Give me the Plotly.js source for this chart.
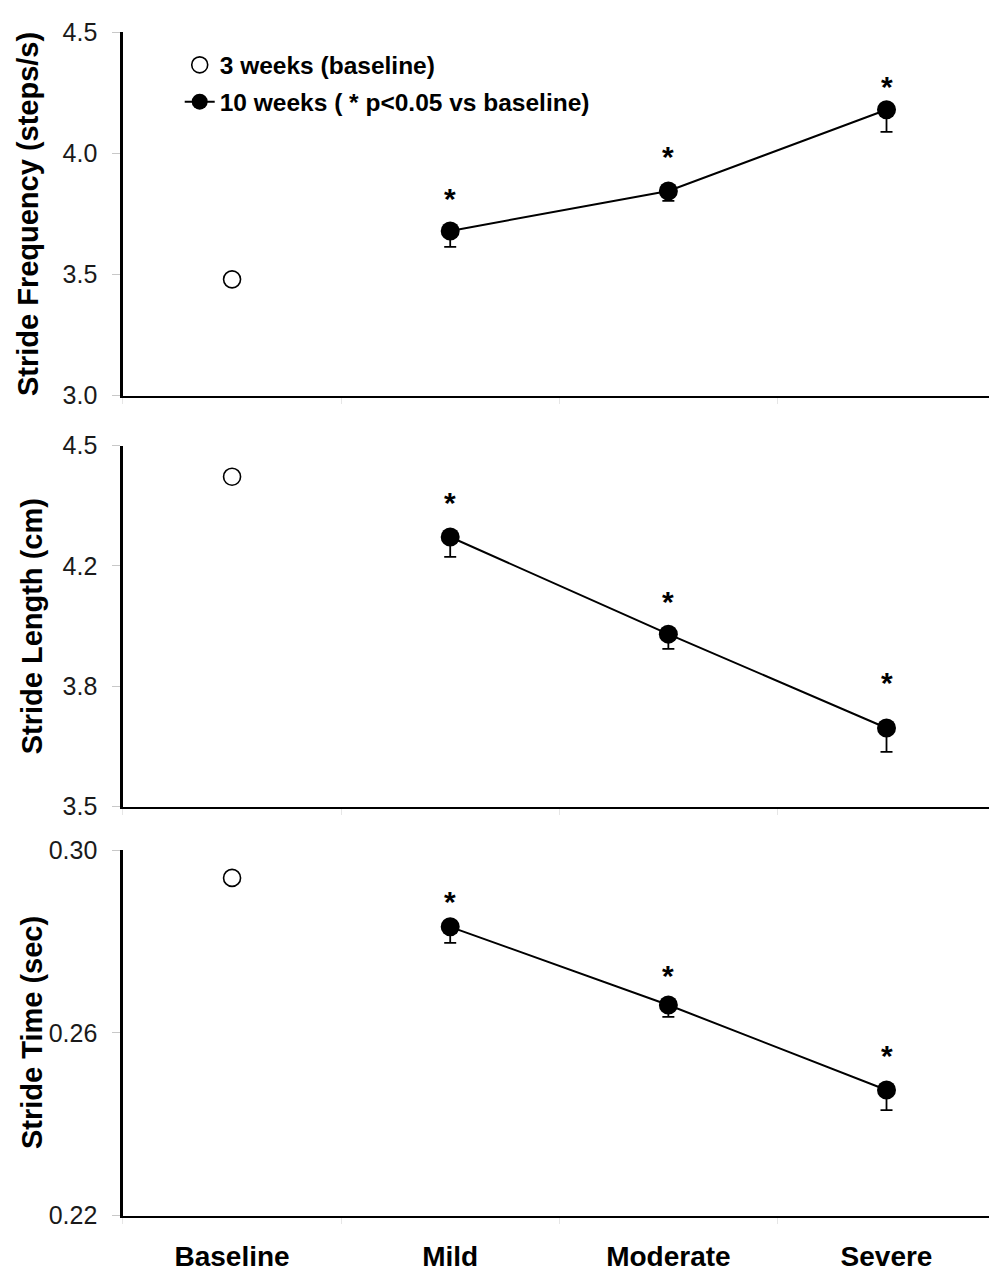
<!DOCTYPE html>
<html><head><meta charset="utf-8">
<script src="https://cdn.plot.ly/plotly-3.0.1.min.js"></script>
<style>body{margin:0;background:#fff}#chart{width:1004px;height:1285px}</style>
</head><body><div id="chart"></div>
<script>
const categories = ['Baseline','Mild','Moderate','Severe'];
const groups10 = ['Mild','Moderate','Severe'];
const baselineGroup = ['Baseline'];
const freqBaseline = [3.48];
const freq10 = [3.68, 3.845, 4.18];
const freq10Err = [0.066, 0.041, 0.091];
const lenBaseline = [4.414];
const len10 = [4.247, 3.978, 3.718];
const len10Err = [0.055, 0.041, 0.066];
const timeBaseline = [0.2939];
const time10 = [0.2832, 0.2661, 0.2475];
const time10Err = [0.0035, 0.0026, 0.0044];
const legendLabels = ['3 weeks (baseline)', '10 weeks ( * p<0.05 vs baseline)'];
const yTitles = ['Stride Frequency (steps/s)', 'Stride Length (cm)', 'Stride Time (sec)'];
const freqTicks = [3.0, 3.5, 4.0, 4.5];
const freqTickText = ['3.0','3.5','4.0','4.5'];
const lenTicks = [3.5, 3.8333, 4.1667, 4.5];
const lenTickText = ['3.5','3.8','4.2','4.5'];
const timeTicks = [0.22, 0.26, 0.30];
const timeTickText = ['0.22','0.26','0.30'];
const sigMark = '*';

const panels = [
  {base: freqBaseline, v: freq10, e: freq10Err, range:[3.0,4.5], tv:freqTicks, tt:freqTickText, dom:[0.6921,0.9749], shifts:[32,34,23], tx:0.028},
  {base: lenBaseline, v: len10, e: len10Err, range:[3.5,4.5], tv:lenTicks, tt:lenTickText, dom:[0.3722,0.6532], shifts:[34,33,46], tx:0.032},
  {base: timeBaseline, v: time10, e: time10Err, range:[0.22,0.30], tv:timeTicks, tt:timeTickText, dom:[0.0539,0.3385], shifts:[25,29,35], tx:0.032}
];

const FONT = 'Liberation Sans, Arial, Helvetica, sans-serif';
const traces = [];
const annotations = [];
const layout = {
  width:1004, height:1285, margin:{l:0,r:0,t:0,b:0},
  paper_bgcolor:'#fff', plot_bgcolor:'rgba(0,0,0,0)',
  font:{family:FONT, color:'#000'},
  showlegend:true,
  legend:{x:0.179, y:0.967, xanchor:'left', yanchor:'top', traceorder:'grouped', tracegroupgap:2,
          font:{family:FONT, size:24.5, color:'#000', weight:'bold'}, bgcolor:'rgba(0,0,0,0)'},
  annotations: annotations
};

panels.forEach((p, i) => {
  const n = i + 1;
  const xa = n === 1 ? 'x' : 'x' + n;
  const ya = n === 1 ? 'y' : 'y' + n;
  traces.push({
    type:'scatter', mode:'markers', x: baselineGroup, y: p.base, xaxis: xa, yaxis: ya,
    name: legendLabels[0], legendgroup:'g1', showlegend: i === 0,
    marker:{symbol:'circle-open', size:17, color:'#000', line:{width:1.6, color:'#000'}},
    cliponaxis:false
  });
  traces.push({
    type:'scatter', mode:'lines+markers', x: groups10, y: p.v, xaxis: xa, yaxis: ya,
    name: legendLabels[1], legendgroup:'g2', showlegend: i === 0,
    line:{color:'#000', width:2},
    marker:{symbol:'circle', size:19, color:'#000'},
    error_y:{type:'data', symmetric:false, array:p.v.map(() => 0), arrayminus:p.e, color:'#000', thickness:1.8, width:6},
    cliponaxis:false
  });
  layout['xaxis' + (n === 1 ? '' : n)] = {
    domain:[0.1225, 0.9851], anchor: ya, type:'category',
    categoryorder:'array', categoryarray: categories, range:[-0.5, 3.47],
    showline:true, linecolor:'#000', linewidth:2.6, showgrid:false, zeroline:false,
    ticks:'outside', tickson:'boundaries', ticklen:6, tickcolor:'#e6e6e6', tickwidth:1,
    showticklabels: n === 3, ticklabelstandoff: 14,
    tickfont:{family:FONT, size:28, color:'#000', weight:'bold'}
  };
  layout['yaxis' + (n === 1 ? '' : n)] = {
    domain: p.dom, anchor: xa, range: p.range, tickmode:'array', tickvals: p.tv, ticktext: p.tt,
    showline:true, linecolor:'#000', linewidth:2.6, showgrid:false, zeroline:false,
    ticks:'outside', ticklen:8, tickcolor:'#c8c8c8', tickwidth:1, ticklabelstandoff: 10,
    tickfont:{family:FONT, size:25, color:'#1a1a1a'}
  };
  annotations.push({
    xref:'paper', yref:'paper', x: p.tx, y: (p.dom[0] + p.dom[1]) / 2, text: yTitles[i],
    textangle:-90, showarrow:false, xanchor:'center', yanchor:'middle',
    font:{family:FONT, size:29, color:'#000', weight:'bold'}
  });
  groups10.forEach((g, k) => {
    annotations.push({
      xref: xa, yref: ya, x: g, y: p.v[k], text: sigMark, showarrow:false,
      yshift: p.shifts[k], xanchor:'center', yanchor:'middle',
      font:{family:FONT, size:30, color:'#000', weight:'bold'}
    });
  });
});

Plotly.newPlot('chart', traces, layout, {staticPlot:true, displayModeBar:false});
</script>
</body></html>
